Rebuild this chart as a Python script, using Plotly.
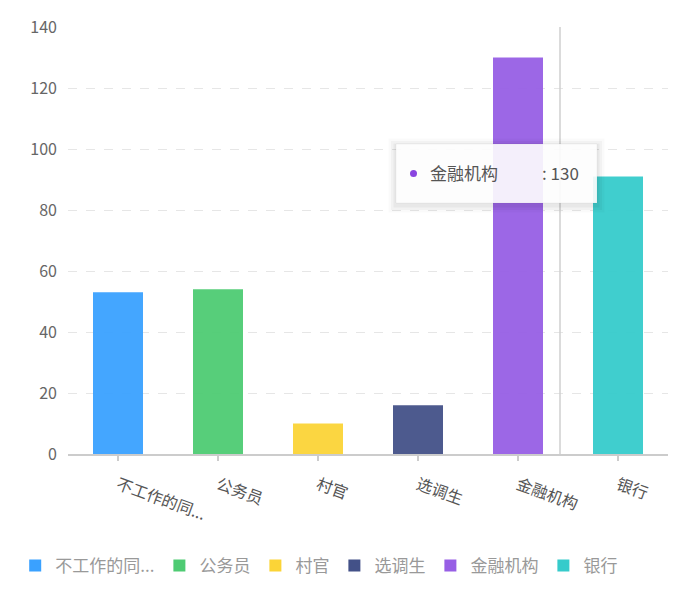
import plotly.graph_objects as go

# data
categories = ["不工作的同...", "公务员", "村官", "选调生", "金融机构", "银行"]
values = [53, 54, 10, 16, 130, 91]
colors = ["#3AA1FF", "#4ECB73", "#FBD437", "#435188", "#975FE5", "#36CBCB"]
y_ticks = [0, 20, 40, 60, 80, 100, 120, 140]

# tooltip content
tip_name = "金融机构"
tip_value = 130

fig = go.Figure()

for i, (cat, val, col) in enumerate(zip(categories, values, colors)):
    fig.add_trace(go.Bar(
        x=[cat],
        y=[val],
        name=cat,
        marker=dict(color=col, opacity=0.95, line=dict(width=0)),
        width=0.5,
        hoverinfo="skip",
    ))

# axis pointer line
fig.add_shape(type="line", xref="x", yref="paper", x0=4.42, x1=4.42, y0=0, y1=1,
              line=dict(color="#cfcfcf", width=1.5))

# tooltip box (paper coords, window px -> plot area)
PX0, PY0, PW, PH = 68, 454, 600, 427
def px(v):
    return (v - PX0) / PW
def py(v):
    return (PY0 - v) / PH

x0, x1 = px(396), px(597)
y0, y1 = py(203), py(144)
for k, a in enumerate([0.02, 0.03, 0.04]):
    d = (3 - k) * 2.5
    fig.add_shape(type="rect", xref="paper", yref="paper",
                  x0=x0 - d / PW, x1=x1 + d / PW, y0=y0 - (d + 2) / PH, y1=y1 + (d - 2) / PH,
                  fillcolor="rgba(0,0,0,%s)" % a, line=dict(width=0), layer="above")
fig.add_shape(type="rect", xref="paper", yref="paper", x0=x0, x1=x1, y0=y0, y1=y1,
              fillcolor="rgba(255,255,255,0.9)", line=dict(color="rgba(0,0,0,0.04)", width=1),
              layer="above")
fig.add_shape(type="circle", xref="paper", yref="paper",
              x0=px(410), x1=px(417), y0=py(177), y1=py(170),
              fillcolor="#8A45E0", line=dict(width=0), layer="above")
fig.add_annotation(xref="paper", yref="paper", x=px(428), y=py(172),
                   text=tip_name, showarrow=False, xanchor="left", yanchor="middle",
                   font=dict(size=17, color="#555"))
fig.add_annotation(xref="paper", yref="paper", x=px(540), y=py(172),
                   text=": %d" % tip_value, showarrow=False, xanchor="left", yanchor="middle",
                   font=dict(size=17, color="#555"))

fig.update_layout(
    width=660, height=577,
    margin=dict(l=60, r=0, t=19, b=131),
    paper_bgcolor="white", plot_bgcolor="white",
    font=dict(family="Noto Sans CJK SC, sans-serif", size=15, color="#666"),
    bargap=0.5,
    showlegend=True,
    legend=dict(orientation="h", x=-0.088, xanchor="left", y=-0.262, yanchor="middle",
                font=dict(size=17, color="#999"), itemclick=False, traceorder="normal"),
    xaxis=dict(
        type="category", categoryorder="array", categoryarray=categories,
        range=[-0.5, 5.5],
        showline=True, linecolor="#cccccc", linewidth=1.5,
        ticks="outside", ticklen=5, tickcolor="#cccccc", tickwidth=1.5,
        tickangle=20, tickfont=dict(size=16, color="#555"), ticklabelstandoff=9,
        showgrid=False, zeroline=False,
    ),
    yaxis=dict(
        range=[0, 140], tickvals=y_ticks,
        showline=False, zeroline=False,
        showgrid=True, gridcolor="#e6e6e6", griddash="dash", gridwidth=1,
        tickfont=dict(size=16, color="#666"), ticks="", ticklabelstandoff=10,
    ),
)

fig.write_html("out.html")
